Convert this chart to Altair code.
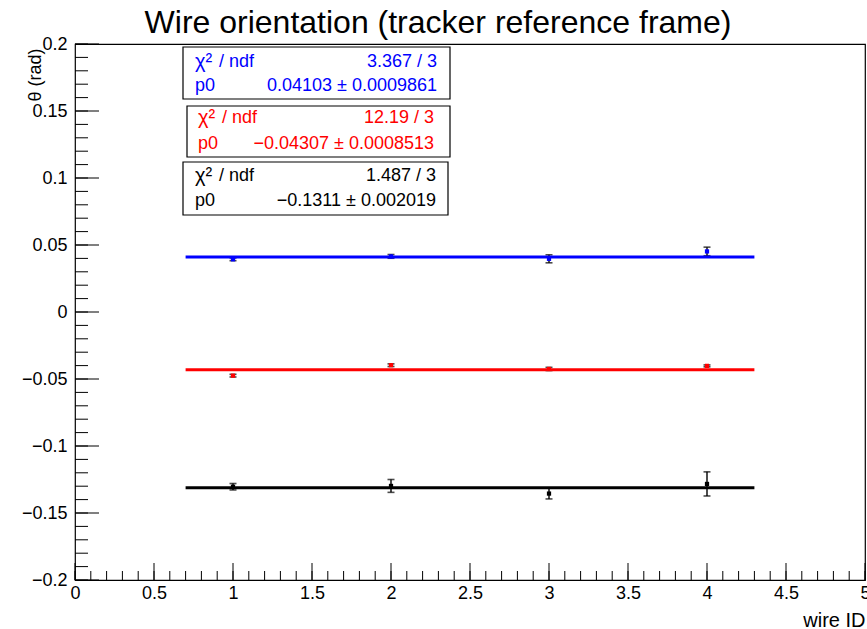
import altair as alt
import numpy as np
import pandas as pd

# --- measured wire orientations (theta in rad) per wire ID, three data sets ---
wire_id = [1, 2, 3, 4]
theta_blue = [0.0393, 0.0415, 0.0397, 0.0452]
err_blue = [0.0010, 0.0014, 0.0030, 0.0032]
theta_red = [-0.0475, -0.0397, -0.0425, -0.0402]
err_red = [0.0010, 0.0010, 0.0012, 0.0007]
theta_black = [-0.1304, -0.1298, -0.1355, -0.1283]
err_black = [0.0024, 0.0048, 0.0040, 0.0090]

series_colors = ["#0000ff", "#ff0000", "#000000"]

# constant (pol0) fit results
fit_p0 = [0.04103, -0.04307, -0.1311]
fit_p0_label = ["0.04103", "\u22120.04307", "\u22120.1311"]
fit_p0_err = ["0.0009861", "0.0008513", "0.002019"]
fit_chi2 = ["3.367", "12.19", "1.487"]
fit_ndf = [3, 3, 3]
fit_range = [0.7, 4.3]

x_tick_labels = [0, 0.5, 1, 1.5, 2, 2.5, 3, 3.5, 4, 4.5, 5]
y_tick_labels = [-0.2, -0.15, -0.1, -0.05, 0, 0.05, 0.1, 0.15, 0.2]

title_text = "Wire orientation (tracker reference frame)"
x_title = "wire ID"
y_title = "\u03b8 (rad)"

FONT = "Liberation Sans"
W, H = 790, 536

# ---------------------------------------------------------------- tables
rows = []
for theta, err, col in [(theta_blue, err_blue, series_colors[0]),
                        (theta_red, err_red, series_colors[1]),
                        (theta_black, err_black, series_colors[2])]:
    for w, t, e in zip(wire_id, theta, err):
        rows.append({"wire": w, "theta": t, "lo": t - e, "hi": t + e, "color": col})
points = pd.DataFrame(rows)

fits = pd.DataFrame({
    "p0": fit_p0,
    "x0": [fit_range[0]] * 3,
    "x1": [fit_range[1]] * 3,
    "color": series_colors,
})

x_minor = pd.DataFrame({"t": np.round(np.arange(0, 50.5) / 10, 2)})
x_major = pd.DataFrame({"t": x_tick_labels})
y_minor = pd.DataFrame({"t": np.round(np.arange(-20, 20.5) / 100, 3)})
y_major = pd.DataFrame({"t": y_tick_labels})

# ---------------------------------------------------------------- scales / axes
x_scale = alt.Scale(domain=[0, 5], nice=False, zero=False)
y_scale = alt.Scale(domain=[-0.2, 0.2], nice=False, zero=False)

x_axis = alt.Axis(
    values=x_tick_labels, format="~g", title=x_title, ticks=False, tickSize=0,
    domain=False, grid=False, labelFont=FONT, labelFontSize=18, labelColor="black",
    labelPadding=4, labelFlush=False, labelOverlap=False,
    titleFont=FONT, titleFontSize=20, titleFontWeight="normal", titleColor="black",
    titleX=W, titleY=40, titleAlign="right", titleBaseline="middle", titleAnchor="end",
)
y_axis = alt.Axis(
    values=y_tick_labels, format="~g", title=y_title, ticks=False, tickSize=0,
    domain=False, grid=False, labelFont=FONT, labelFontSize=18, labelColor="black",
    labelPadding=8, labelFlush=False, labelOverlap=False,
    titleFont=FONT, titleFontSize=18, titleFontWeight="normal", titleColor="black",
    titleAngle=270, titleX=-40, titleY=4, titleAlign="right", titleBaseline="middle",
    titleAnchor="end",
)


def X(field):
    return alt.X(field, type="quantitative", scale=x_scale, axis=x_axis)


def Y(field):
    return alt.Y(field, type="quantitative", scale=y_scale, axis=y_axis)


# ---------------------------------------------------------------- tick marks inside the frame
xt_minor = alt.Chart(x_minor).mark_rule(color="black", strokeWidth=1).encode(
    x=X("t"), y=alt.value(H), y2=alt.value(H - 9))
xt_major = alt.Chart(x_major).mark_rule(color="black", strokeWidth=1).encode(
    x=X("t"), y=alt.value(H), y2=alt.value(H - 17))
yt_minor = alt.Chart(y_minor).mark_rule(color="black", strokeWidth=1).encode(
    y=Y("t"), x=alt.value(0), x2=alt.value(13))
yt_major = alt.Chart(y_major).mark_rule(color="black", strokeWidth=1).encode(
    y=Y("t"), x=alt.value(0), x2=alt.value(24))

# ---------------------------------------------------------------- data points
bars = alt.Chart(points).mark_rule(color="black", strokeWidth=1.4).encode(
    x=X("wire"), y=Y("lo"), y2="hi")
cap_lo = alt.Chart(points).mark_tick(color="black", orient="horizontal", size=7,
                                     thickness=1.6).encode(x=X("wire"), y=Y("lo"))
cap_hi = alt.Chart(points).mark_tick(color="black", orient="horizontal", size=7,
                                     thickness=1.6).encode(x=X("wire"), y=Y("hi"))
markers = alt.Chart(points).mark_square(size=18, opacity=1).encode(
    x=X("wire"), y=Y("theta"), color=alt.Color("color:N", scale=None))

# ---------------------------------------------------------------- fitted constants
fit_lines = alt.Chart(fits).mark_rule(strokeWidth=3).encode(
    x=X("x0"), x2="x1", y=Y("p0"), color=alt.Color("color:N", scale=None))

# ---------------------------------------------------------------- fit statistics boxes
stats = pd.DataFrame({
    "chi_sym": ["\u03c7\u00b2"] * 3,
    "chi_lbl": ["/ ndf"] * 3,
    "chi_val": [f"{c} / {n}" for c, n in zip(fit_chi2, fit_ndf)],
    "p_lbl": ["p0"] * 3,
    "p_val": [f"{p} \u00b1 {e}" for p, e in zip(fit_p0_label, fit_p0_err)],
    "color": series_colors,
})

# box geometry in pixels: (left, top, right, bottom, text left, text right, row1 y, row2 y)
box_geom = [
    (108, 3, 375, 55, 120, 362, 18, 42),
    (112, 62, 375, 113, 123, 359, 74, 100),
    (108, 118, 373, 171, 120, 361, 132, 157),
]

box_layers = []
for i, (l, t, r, b, tl, tr, r1, r2) in enumerate(box_geom):
    row = stats.iloc[[i]]
    col = series_colors[i]
    base = alt.Chart(row)
    box_layers.append(base.mark_rect(fill="white", stroke="black", strokeWidth=1.2).encode(
        x=alt.value(l), x2=alt.value(r), y=alt.value(t), y2=alt.value(b)))
    txt = dict(font=FONT, fontSize=18, color=col, baseline="middle")
    box_layers.append(base.mark_text(align="left", font=FONT, fontSize=20, color=col,
                                     baseline="middle").encode(
        text="chi_sym:N", x=alt.value(tl), y=alt.value(r1)))
    box_layers.append(base.mark_text(align="left", **txt).encode(
        text="chi_lbl:N", x=alt.value(tl + 24), y=alt.value(r1)))
    box_layers.append(base.mark_text(align="right", **txt).encode(
        text="chi_val:N", x=alt.value(tr), y=alt.value(r1)))
    box_layers.append(base.mark_text(align="left", **txt).encode(
        text="p_lbl:N", x=alt.value(tl), y=alt.value(r2)))
    box_layers.append(base.mark_text(align="right", **txt).encode(
        text="p_val:N", x=alt.value(tr), y=alt.value(r2)))

# ---------------------------------------------------------------- title
title = alt.Chart(pd.DataFrame({"t": [title_text]})).mark_text(
    font=FONT, fontSize=32, color="black", align="center", baseline="alphabetic"
).encode(text="t:N", x=alt.value(363), y=alt.value(-11))

chart = alt.layer(
    xt_minor, xt_major, yt_minor, yt_major,
    bars, cap_lo, cap_hi, markers, fit_lines,
    *box_layers, title,
).properties(
    width=W, height=H,
    autosize=alt.AutoSizeParams(type="none"),
    padding={"left": 75, "top": 44, "right": 2, "bottom": 49},
    background="white",
).configure_view(stroke="black", strokeWidth=1.2)

chart.save("out.html", embed_options={"renderer": "svg", "actions": False})
